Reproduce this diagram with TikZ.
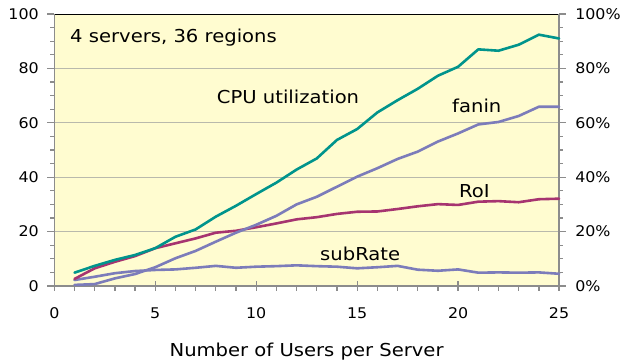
\documentclass[tikz,border=0pt]{standalone}
\usepackage{fontspec}
\setmainfont{DejaVu Sans}
\definecolor{plotbg}{RGB}{255,252,208}
\definecolor{gridgray}{RGB}{185,185,172}
\definecolor{axisgray}{RGB}{140,140,140}
\definecolor{cputeal}{RGB}{0,148,140}
\definecolor{faninblue}{RGB}{124,124,186}
\definecolor{roimagenta}{RGB}{166,52,112}
\tikzset{
  ticklabel/.style={font=\fontsize{14.7bp}{17bp}\selectfont, inner sep=0pt, xscale=1.08},
  serieslabel/.style={font=\fontsize{17.8bp}{21bp}\selectfont, inner sep=0pt, anchor=base west, xscale=1.1},
  axisline/.style={draw=axisgray, line width=1.3bp},
  gridline/.style={draw=gridgray, line width=1bp},
  series/.style={line width=2.6bp, line join=round, line cap=round},
}
\begin{document}
\begin{tikzpicture}[x=1bp,y=1bp]
\useasboundingbox (0,0) rectangle (621,361);
\fill[white] (0,0) rectangle (621,361);

\begin{scope}[shift={(54.3,75)}, x=20.19bp, y=2.72bp]
  % plot area and grid
  \fill[plotbg] (0,0) rectangle (25,100);
  \foreach \v in {20,40,60,80} \draw[gridline] (0,\v) -- (25,\v);
  \draw[black, line width=0.9bp] (0,100) -- (25,100);

  % left axis with ticks
  \draw[axisline] (0,0) -- (0,100);
  \foreach \v in {5,10,...,95} \draw[axisline] (0,\v) -- ++(-4bp,0);
  \foreach \v in {0,20,...,100} {
    \draw[axisline] (0,\v) -- ++(-7bp,0);
    \node[ticklabel, anchor=east] (yl\v) at ([xshift=-15.3bp]0,\v) {\v};
  }

  % right axis with ticks
  \draw[axisline] (25,0) -- (25,100);
  \foreach \v in {5,10,...,95} \draw[axisline] (25,\v) -- ++(4bp,0);
  \foreach \v in {0,20,...,100} {
    \draw[axisline] (25,\v) -- ++(7bp,0);
    \node[ticklabel, anchor=west] (yr\v) at ([xshift=16bp]25,\v) {\v\%};
  }

  % bottom axis with ticks
  \draw[axisline] (0,0) -- (25,0);
  \foreach \i in {1,...,24} \draw[axisline] (\i,0) -- ++(0,-5bp);
  \foreach \i in {0,5,...,25} {
    \draw[axisline] ([yshift=5bp]\i,0) -- ++(0,-10bp);
    \node[ticklabel] (xl\i) at ([yshift=-27.5bp]\i,0) {\i};
  }

  % data series
  \draw[series, draw=faninblue] plot coordinates {
    (1,2.2) (2,3.4) (3,4.7) (4,5.5) (5,5.9) (6,6.1) (7,6.7) (8,7.4) (9,6.7)
    (10,7.1) (11,7.3) (12,7.6) (13,7.3) (14,7.1) (15,6.5) (16,6.9) (17,7.4)
    (18,6.0) (19,5.6) (20,6.1) (21,4.9) (22,5.0) (23,4.9) (24,5.0) (25,4.5)};
  \draw[series, draw=roimagenta] plot coordinates {
    (1,2.6) (2,6.5) (3,8.9) (4,11) (5,13.9) (6,15.7) (7,17.5) (8,19.6) (9,20.3)
    (10,21.6) (11,23) (12,24.5) (13,25.3) (14,26.5) (15,27.3) (16,27.4) (17,28.3)
    (18,29.3) (19,30.1) (20,29.8) (21,31) (22,31.2) (23,30.8) (24,31.9) (25,32.1)};
  \draw[series, draw=faninblue] plot coordinates {
    (1,0.4) (2,0.7) (3,2.8) (4,4.4) (5,6.9) (6,10.2) (7,12.9) (8,16.3) (9,19.6)
    (10,22.5) (11,25.8) (12,30) (13,32.8) (14,36.5) (15,40.2) (16,43.3) (17,46.7)
    (18,49.4) (19,53.1) (20,56.1) (21,59.4) (22,60.3) (23,62.5) (24,65.9) (25,65.9)};
  \draw[series, draw=cputeal] plot coordinates {
    (1,4.9) (2,7.4) (3,9.6) (4,11.4) (5,13.9) (6,18.1) (7,20.8) (8,25.5) (9,29.5)
    (10,33.8) (11,38) (12,42.8) (13,46.9) (14,53.7) (15,57.7) (16,63.8) (17,68.3)
    (18,72.5) (19,77.3) (20,80.6) (21,87) (22,86.5) (23,88.7) (24,92.4) (25,91)};
\end{scope}

% labels
\node[serieslabel] (title) at (70,318.7) {4 servers, 36 regions};
\node[serieslabel] (cpu) at (216.7,258) {CPU utilization};
\node[serieslabel] (fanin) at (452,249) {fanin};
\node[serieslabel] (roi) at (459,164) {RoI};
\node[serieslabel] (subrate) at (320,101) {subRate};
\node[serieslabel, anchor=base] (xlabel) at (306.6,5) {Number of Users per Server};
\end{tikzpicture}
\end{document}
